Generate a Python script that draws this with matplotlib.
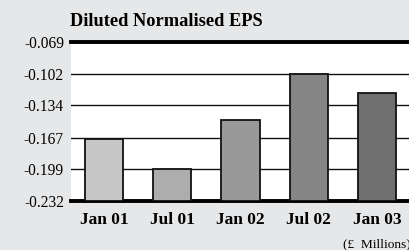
import matplotlib.pyplot as plt

plt.rcParams["font.family"] = ["Liberation Serif", "DejaVu Serif"]

periods = ["Jan 01", "Jul 01", "Jan 02", "Jul 02", "Jan 03"]
eps = [-0.168, -0.199, -0.149, -0.102, -0.121]
bar_colors = ["#c6c6c6", "#adadad", "#999999", "#858585", "#6f6f6f"]
y_ticks = [-0.069, -0.102, -0.134, -0.167, -0.199, -0.232]

BG = "#e6e7e8"

fig = plt.figure(figsize=(4.1, 2.5), dpi=100, facecolor=BG)
ax = fig.add_axes([0.173, 0.196, 0.827, 0.636])
ax.set_facecolor("white")

base = y_ticks[-1]
x = range(len(periods))
ax.bar(x, [v - base for v in eps], bottom=base, width=0.56,
       color=bar_colors, edgecolor="#111111", linewidth=1.3, zorder=3)

ax.set_ylim(y_ticks[-1], y_ticks[0])
ax.set_xlim(-0.485, len(periods) - 0.515)
ax.set_yticks(y_ticks)
ax.set_yticklabels([f"{t:.3f}" for t in y_ticks], fontsize=11.2)
ax.set_xticks(list(x))
ax.set_xticklabels(periods, fontsize=12.5, fontweight="bold")
ax.tick_params(length=0, pad=5)
ax.tick_params(axis="x", pad=8)

ax.yaxis.grid(True, color="#111111", linewidth=1.0, zorder=0)
ax.set_axisbelow(True)
for side in ("left", "right"):
    ax.spines[side].set_visible(False)
ax.spines["top"].set_linewidth(2.8)
ax.spines["bottom"].set_linewidth(2.8)

fig.text(0.171, 0.915, "Diluted Normalised EPS", fontsize=13.2,
         fontweight="bold", ha="left", va="center")
fig.text(0.837, 0.022, "(\u00a3  Millions)", fontsize=9.6,
         ha="left", va="center")

fig.savefig("out.png", dpi=100, facecolor=BG)
